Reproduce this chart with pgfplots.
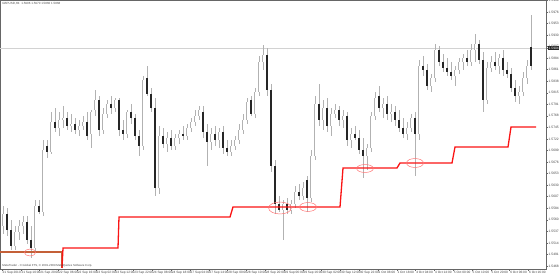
\documentclass[border=0pt]{standalone}
\usepackage{pgfplots}
\usepackage{pgfplotstable}
\pgfplotsset{compat=1.18}
\usepackage{fontspec}
\setmainfont{Liberation Sans}
\definecolor{mtred}{RGB}{250,20,20}
\definecolor{mtbrown}{RGB}{196,96,56}

\pgfplotstableread{
x o h l c
3 1.5548 1.5588 1.5532 1.5572
7 1.5572 1.5584 1.5528 1.5540
11 1.5540 1.5560 1.5500 1.5508
15 1.5508 1.5548 1.5500 1.5536
19 1.5536 1.5560 1.5520 1.5548
23 1.5548 1.5568 1.5532 1.5556
27 1.5556 1.5568 1.5512 1.5520
31 1.5520 1.5548 1.5484 1.5504
35 1.5504 1.5600 1.5496 1.5588
39 1.5588 1.5600 1.5572 1.5576
43 1.5576 1.5720 1.5568 1.5700
47 1.5708 1.5720 1.5684 1.5696
51 1.5696 1.5776 1.5692 1.5756
55 1.5756 1.5784 1.5736 1.5744
59 1.5744 1.5776 1.5728 1.5760
63 1.5760 1.5788 1.5744 1.5764
67 1.5764 1.5776 1.5740 1.5748
71 1.5748 1.5772 1.5736 1.5752
75 1.5752 1.5764 1.5732 1.5740
79 1.5740 1.5760 1.5728 1.5748
83 1.5748 1.5768 1.5740 1.5756
87 1.5756 1.5776 1.5720 1.5728
91 1.5732 1.5780 1.5704 1.5776
95 1.5780 1.5820 1.5768 1.5800
99 1.5800 1.5808 1.5728 1.5740
103 1.5740 1.5784 1.5732 1.5772
107 1.5772 1.5800 1.5764 1.5792
111 1.5792 1.5808 1.5772 1.5784
115 1.5784 1.5804 1.5776 1.5800
119 1.5800 1.5804 1.5728 1.5740
123 1.5740 1.5760 1.5720 1.5732
127 1.5732 1.5780 1.5724 1.5776
131 1.5776 1.5792 1.5752 1.5764
135 1.5764 1.5772 1.5720 1.5728
139 1.5728 1.5740 1.5688 1.5708
143 1.5708 1.5848 1.5700 1.5840
147 1.5844 1.5868 1.5808 1.5812
151 1.5812 1.5824 1.5776 1.5784
155 1.5784 1.5804 1.5608 1.5624
159 1.5624 1.5748 1.5612 1.5728
163 1.5728 1.5744 1.5704 1.5712
167 1.5712 1.5736 1.5696 1.5724
171 1.5724 1.5740 1.5700 1.5708
175 1.5708 1.5732 1.5700 1.5724
179 1.5724 1.5740 1.5712 1.5732
183 1.5732 1.5748 1.5720 1.5728
187 1.5728 1.5752 1.5720 1.5744
191 1.5744 1.5764 1.5736 1.5756
195 1.5756 1.5780 1.5748 1.5768
199 1.5768 1.5788 1.5760 1.5780
203 1.5776 1.5788 1.5724 1.5736
207 1.5736 1.5752 1.5668 1.5716
211 1.5716 1.5744 1.5700 1.5732
215 1.5732 1.5748 1.5708 1.5720
219 1.5720 1.5744 1.5704 1.5736
223 1.5736 1.5748 1.5692 1.5704
227 1.5704 1.5720 1.5688 1.5696
231 1.5696 1.5720 1.5688 1.5708
235 1.5708 1.5728 1.5700 1.5720
239 1.5720 1.5752 1.5712 1.5740
243 1.5740 1.5772 1.5732 1.5760
247 1.5760 1.5804 1.5752 1.5796
251 1.5800 1.5808 1.5768 1.5772
255 1.5772 1.5824 1.5764 1.5816
259 1.5816 1.5888 1.5808 1.5876
263 1.5876 1.5910 1.5860 1.5890
267 1.5890 1.5904 1.5808 1.5820
271 1.5820 1.5832 1.5656 1.5668
275 1.5668 1.5680 1.5572 1.5592
279 1.5592 1.5608 1.5576 1.5580
283 1.5580 1.5600 1.5520 1.5592
287 1.5592 1.5604 1.5572 1.5580
291 1.5580 1.5600 1.5572 1.5592
295 1.5592 1.5628 1.5584 1.5616
299 1.5616 1.5632 1.5600 1.5608
303 1.5608 1.5636 1.5600 1.5624
307 1.5640 1.5648 1.5576 1.5604
311 1.5604 1.5700 1.5596 1.5688
315 1.5688 1.5808 1.5680 1.5792
319 1.5792 1.5832 1.5748 1.5760
323 1.5760 1.5800 1.5740 1.5784
327 1.5784 1.5804 1.5736 1.5748
331 1.5748 1.5784 1.5728 1.5772
335 1.5772 1.5792 1.5764 1.5780
339 1.5780 1.5788 1.5748 1.5760
343 1.5760 1.5780 1.5744 1.5768
347 1.5768 1.5776 1.5708 1.5720
351 1.5720 1.5744 1.5704 1.5732
355 1.5732 1.5748 1.5720 1.5724
359 1.5724 1.5740 1.5692 1.5700
363 1.5700 1.5724 1.5644 1.5688
367 1.5688 1.5712 1.5660 1.5704
371 1.5704 1.5776 1.5696 1.5768
375 1.5768 1.5816 1.5760 1.5804
379 1.5808 1.5828 1.5776 1.5784
383 1.5784 1.5804 1.5764 1.5792
387 1.5792 1.5808 1.5760 1.5772
391 1.5772 1.5792 1.5756 1.5776
395 1.5776 1.5788 1.5748 1.5760
399 1.5760 1.5780 1.5736 1.5744
403 1.5744 1.5764 1.5724 1.5732
407 1.5732 1.5756 1.5720 1.5744
411 1.5744 1.5772 1.5736 1.5764
415 1.5764 1.5776 1.5648 1.5732
419 1.5732 1.5880 1.5720 1.5868
423 1.5868 1.5888 1.5848 1.5860
427 1.5860 1.5872 1.5820 1.5828
431 1.5828 1.5852 1.5816 1.5844
435 1.5844 1.5912 1.5836 1.5900
439 1.5900 1.5908 1.5868 1.5876
443 1.5876 1.5892 1.5856 1.5864
447 1.5864 1.5884 1.5848 1.5856
451 1.5856 1.5876 1.5840 1.5848
455 1.5848 1.5868 1.5828 1.5860
459 1.5860 1.5884 1.5852 1.5876
463 1.5876 1.5892 1.5860 1.5884
467 1.5884 1.5900 1.5868 1.5876
471 1.5876 1.5912 1.5868 1.5900
475 1.5900 1.5932 1.5876 1.5912
479 1.5912 1.5920 1.5872 1.5880
483 1.5880 1.5896 1.5776 1.5800
487 1.5800 1.5876 1.5792 1.5864
491 1.5864 1.5888 1.5856 1.5876
495 1.5876 1.5896 1.5860 1.5868
499 1.5868 1.5892 1.5852 1.5884
503 1.5884 1.5900 1.5848 1.5860
507 1.5860 1.5876 1.5844 1.5852
511 1.5852 1.5864 1.5816 1.5824
515 1.5824 1.5840 1.5796 1.5808
519 1.5808 1.5828 1.5792 1.5816
523 1.5816 1.5856 1.5808 1.5844
527 1.5844 1.5880 1.5832 1.5868
531 1.5906 1.5970 1.5860 1.5868
}\candles

\pgfplotsset{
  candlepart/.style n args={2}{forget plot, draw=none, no markers,
    error bars/.cd, y dir=both, y explicit, error mark=none,
    error bar style={draw=#1, line width=#2, line cap=butt}},
}

\begin{document}
\begin{tikzpicture}
\path[use as bounding box] (0,0) rectangle (560bp,275bp);
\begin{axis}[
  at={(0bp,6bp)}, anchor=south west,
  scale only axis, width=546bp, height=269bp,
  xmin=0, xmax=546, ymin=1.5462, ymax=1.6,
  axis line style={black!60, line width=0.5bp},
  tick align=outside, major tick length=1.8bp,
  tick style={black!60, line width=0.4bp},
  ytick pos=right, yticklabel pos=right,
  xtick pos=bottom, xticklabel pos=bottom,
  ytick={1.5468,1.54911,1.55142,1.55373,1.55604,1.55835,1.56066,1.56297,1.56528,1.56759,1.5699,1.57221,1.57452,1.57683,1.57914,1.58145,1.58376,1.58607,1.58838,1.59069,1.593,1.59531,1.59762,1.59993},
  /pgf/number format/assume math mode=true,
  y tick label style={/pgf/number format/fixed, /pgf/number format/fixed zerofill, /pgf/number format/precision=4},
  yticklabel style={font=\fontsize{3.3}{4}\selectfont, text=black!75, anchor=west, inner sep=0.4bp, xshift=0.3bp},
  scaled y ticks=false,
  extra y ticks={1.5904},
  extra y tick style={yticklabel style={fill=black!85, text=white}},
  xtick={2,20.8,39.6,58.4,77.2,96,114.8,133.6,152.4,171.2,190,208.8,227.6,246.4,265.2,284,302.8,321.6,340.4,359.2,378,396.8,415.6,434.4,453.2,472,490.8,509.6,528.4},
  xticklabels={21 Sep 2010,21 Sep 10:00,21 Sep 20:00,22 Sep 06:00,22 Sep 16:00,23 Sep 02:00,23 Sep 12:00,23 Sep 22:00,24 Sep 08:00,24 Sep 18:00,27 Sep 04:00,27 Sep 14:00,28 Sep 00:00,28 Sep 10:00,28 Sep 20:00,29 Sep 06:00,29 Sep 16:00,30 Sep 02:00,30 Sep 12:00,30 Sep 22:00,1 Oct 08:00,1 Oct 18:00,4 Oct 04:00,4 Oct 14:00,5 Oct 00:00,5 Oct 10:00,5 Oct 20:00,6 Oct 06:00,6 Oct 16:00},
  xticklabel style={font=\fontsize{3.2}{4}\selectfont, text=black!75, anchor=north west, inner sep=0.3bp, xshift=0.2bp},
]
% bid line
\addplot[gray!35, line width=0.4bp, forget plot] coordinates {(0,1.5904) (546,1.5904)};

% wicks
\addplot[candlepart={gray!60}{0.6bp}]
  table[x=x, y expr={(\thisrow{h}+\thisrow{l})/2}, y error expr={(\thisrow{h}-\thisrow{l})/2}] {\candles};

% bull bodies: grey outline, white inside
\addplot[restrict expr to domain={\thisrow{c}-\thisrow{o}}{0:1}, candlepart={gray!60}{2.6bp}]
  table[x=x, y expr={(\thisrow{o}+\thisrow{c})/2}, y error expr={abs(\thisrow{c}-\thisrow{o})/2}] {\candles};
\addplot[restrict expr to domain={\thisrow{c}-\thisrow{o}}{0.0001:1}, candlepart={white}{1.0bp}]
  table[x=x, y expr={(\thisrow{o}+\thisrow{c})/2}, y error expr={abs(\thisrow{c}-\thisrow{o})/2-0.00006}] {\candles};

% bear bodies
\addplot[restrict expr to domain={\thisrow{c}-\thisrow{o}}{-1:0}, candlepart={black!85}{2.6bp}]
  table[x=x, y expr={(\thisrow{o}+\thisrow{c})/2}, y error expr={abs(\thisrow{c}-\thisrow{o})/2}] {\candles};

% support step line
\addplot[mtbrown, line width=1.3bp] coordinates {(0,1.5496) (62,1.5496) (62,1.5464)};
\addplot[mtred, line width=1.3bp] coordinates {(62,1.5464) (63,1.5504) (118,1.5504) (119,1.5566) (230,1.5566) (233,1.5586) (340,1.5586) (343,1.5664) (397,1.5664) (400,1.5674) (452,1.5674) (455,1.5706) (508,1.5706) (511,1.5746) (536,1.5746)};

% circled touches
\addplot[only marks, mark=o, mark size=3.5pt, mark options={red!55, line width=0.5bp, xscale=1.6}] coordinates {(30,1.5495)};
\addplot[only marks, mark=o, mark size=6pt, mark options={red!55, line width=0.5bp, xscale=1.9}] coordinates {(280,1.5584)};
\addplot[only marks, mark=o, mark size=4.5pt, mark options={red!55, line width=0.5bp, xscale=1.9}] coordinates {(308,1.5586)};
\addplot[only marks, mark=o, mark size=4pt, mark options={red!55, line width=0.5bp, xscale=2.1}] coordinates {(365,1.5663)};
\addplot[only marks, mark=o, mark size=4.5pt, mark options={red!55, line width=0.5bp, xscale=1.9}] coordinates {(415,1.5674)};

\node[anchor=north west, inner sep=0pt, font=\fontsize{3}{3.5}\selectfont, text=black!70] at (rel axis cs:0.004,0.992) {GBPUSD,H4\ \ 1.5906 1.5970 1.5860 1.5868};
\node[anchor=south west, inner sep=0pt, font=\fontsize{2.9}{3.5}\selectfont, text=black!70] at (rel axis cs:0.004,0.006) {MetaTrader - © Global FTS, © 2001-2009 MetaQuotes Software Corp.};
\end{axis}
\end{tikzpicture}
\end{document}
